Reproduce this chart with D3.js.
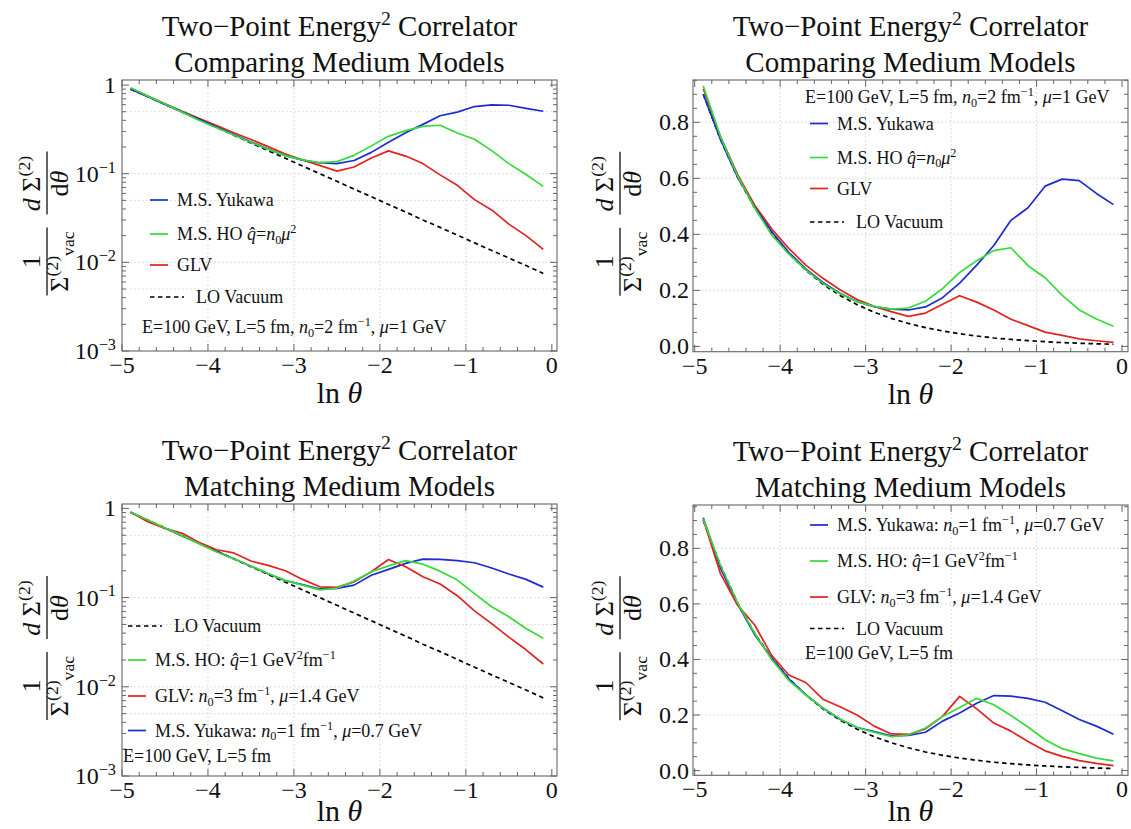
<!DOCTYPE html>
<html><head><meta charset="utf-8">
<script src="https://cdn.jsdelivr.net/npm/d3@7/dist/d3.min.js"></script>
<style>
body{margin:0;background:#fff;}
svg{display:block;}
svg text{font-family:"Liberation Serif","Times New Roman",Times,serif;}
</style></head>
<body><svg id="c" width="1131" height="829" font-family="Liberation Serif, Times New Roman, serif"></svg>
<script>
// ---------------- data ----------------
const lnTheta = [-4.9,-4.7,-4.5,-4.3,-4.1,-3.9,-3.7,-3.5,-3.3,-3.1,-2.9,-2.7,-2.5,-2.3,-2.1,-1.9,-1.7,-1.5,-1.3,-1.1,-0.9,-0.7,-0.5,-0.3,-0.1];
const vacuum = [0.900,0.740,0.605,0.495,0.405,0.332,0.272,0.222,0.182,0.149,0.122,0.100,0.082,0.067,0.055,0.045,0.037,0.030,0.0248,0.0203,0.0166,0.0136,0.0112,0.0092,0.0075];
// Comparing medium models (n0=2 fm^-1, mu=1 GeV)
const yukawaCompare = [0.900,0.740,0.605,0.498,0.410,0.336,0.277,0.228,0.190,0.160,0.142,0.133,0.130,0.141,0.174,0.226,0.290,0.360,0.450,0.495,0.572,0.597,0.592,0.546,0.506];
const hoCompare     = [0.930,0.750,0.610,0.495,0.398,0.330,0.273,0.225,0.188,0.160,0.143,0.133,0.137,0.161,0.206,0.264,0.306,0.342,0.352,0.288,0.245,0.182,0.130,0.098,0.072];
const glvCompare    = [0.920,0.750,0.615,0.505,0.420,0.350,0.290,0.243,0.202,0.167,0.143,0.124,0.107,0.119,0.150,0.181,0.158,0.130,0.097,0.074,0.051,0.039,0.027,0.020,0.014];
// Matching medium models
const yukawaMatch = [0.910,0.730,0.600,0.490,0.405,0.330,0.273,0.225,0.185,0.155,0.140,0.125,0.127,0.138,0.178,0.207,0.242,0.270,0.268,0.260,0.246,0.215,0.184,0.160,0.131];
const hoMatch     = [0.905,0.740,0.605,0.495,0.400,0.325,0.272,0.225,0.186,0.155,0.138,0.122,0.128,0.153,0.195,0.227,0.260,0.237,0.198,0.157,0.111,0.079,0.061,0.045,0.035];
const glvMatch    = [0.904,0.710,0.596,0.525,0.415,0.344,0.317,0.257,0.230,0.200,0.160,0.132,0.130,0.150,0.195,0.267,0.222,0.171,0.142,0.105,0.071,0.051,0.036,0.026,0.018];

const xTickValues = [-5,-4,-3,-2,-1,0];
const linTickValues = [0.0,0.2,0.4,0.6,0.8];
const logTickValues = [1e-3,1e-2,1e-1,1];

const titleLine1 = "Two\u2212Point Energy|^2| Correlator";
const titleCompare = "Comparing Medium Models";
const titleMatch = "Matching Medium Models";

const lblYukawa = "M.S. Yukawa";
const lblHO = "M.S. HO |i:q\u0302|=|i:n|_0|i:\u03bc|^2";
const lblGLV = "GLV";
const lblVac = "LO Vacuum";
const lblInfoCompare = "E=100 GeV, L=5 fm, |i:n|_0|=2 fm|^\u22121|, |i:\u03bc|=1 GeV";
const lblYukawaM = "M.S. Yukawa: |i:n|_0|=1 fm|^\u22121|, |i:\u03bc|=0.7 GeV";
const lblHOM = "M.S. HO: |i:q\u0302|=1 GeV|^2|fm|^\u22121";
const lblGLVM = "GLV: |i:n|_0|=3 fm|^\u22121|, |i:\u03bc|=1.4 GeV";
const lblInfoMatch = "E=100 GeV, L=5 fm";

const COL = {yukawa:"#1c2bd2", ho:"#35dc35", glv:"#e0231f", vac:"#000"};
const FONT = "Liberation Serif, Times New Roman, serif";

// --------------- helpers ----------------
const svg = d3.select("#c");

function parseRich(s){
  return s.split("|").filter(p=>p.length).map(p=>{
    const o={sup:false,sub:false,i:false};
    if(p[0]==="^"){o.sup=true;p=p.slice(1);} else if(p[0]==="_"){o.sub=true;p=p.slice(1);}
    if(p.startsWith("i:")){o.i=true;p=p.slice(2);}
    o.t=p; return o;
  });
}
function rich(g,x,y,str,fs,anchor){
  const t=g.append("text").attr("x",x).attr("y",y).attr("font-size",fs).attr("font-family",FONT)
    .attr("text-anchor",anchor||"start").attr("fill","#111");
  let shift=0;
  parseRich(str).forEach(s=>{
    const target = s.sup? -0.38*fs : s.sub? 0.22*fs : 0;
    const ts=t.append("tspan").attr("dy",target-shift).text(s.t);
    shift=target;
    if(s.sup||s.sub) ts.attr("font-size",fs*0.68);
    if(s.i) ts.attr("font-style","italic");
  });
  return t;
}

function drawYLabel(cx,cy){
  const g=svg.append("g").attr("transform",`translate(${cx},${cy}) rotate(-90)`);
  const fs=26;
  // fraction A : 1 / Sigma^(2)_vac
  rich(g,-40,21,"\u03a3|^(2)|_vac",fs,"middle");
  rich(g,-40,-7,"1",fs,"middle");
  g.append("line").attr("x1",-74).attr("x2",-6).attr("y1",0).attr("y2",0).attr("stroke","#111").attr("stroke-width",1.3);
  // fraction B : d Sigma^(2) / d theta
  rich(g,38,-7,"|i:d| \u03a3|^(2)",fs,"middle");
  rich(g,38,21,"d|i:\u03b8",fs,"middle");
  g.append("line").attr("x1",7).attr("x2",70).attr("y1",0).attr("y2",0).attr("stroke","#111").attr("stroke-width",1.3);
}

function drawPanel(p){
  const g=svg.append("g");
  const fr=p.frame;
  const x=d3.scaleLinear().domain(p.xdom).range([fr.l,fr.r]);
  const y=(p.log?d3.scaleLog():d3.scaleLinear()).domain(p.ydom).range([fr.b,fr.t]);

  // grid
  const gridY = p.log ? [0.5,0.1,0.05,0.01,0.005] : [0.2,0.4,0.6,0.8];
  const gridX = [-4,-3,-2,-1];
  g.selectAll(null).data(gridY).join("line")
    .attr("x1",fr.l).attr("x2",fr.r).attr("y1",d=>y(d)).attr("y2",d=>y(d))
    .attr("stroke","#c8c8c8").attr("stroke-width",0.8).attr("stroke-dasharray","1.5,2.5");
  g.selectAll(null).data(gridX).join("line")
    .attr("y1",fr.t).attr("y2",fr.b).attr("x1",d=>x(d)).attr("x2",d=>x(d))
    .attr("stroke","#c8c8c8").attr("stroke-width",0.8).attr("stroke-dasharray","1.5,2.5");

  // series
  const line=d3.line().x((d,i)=>x(lnTheta[i])).y(d=>y(d));
  p.series.forEach(s=>{
    g.append("path").datum(s.values).attr("d",line).attr("fill","none")
      .attr("stroke",s.color).attr("stroke-width",1.7)
      .attr("stroke-dasharray",s.dash?"4.5,3.5":null).attr("stroke-linejoin","round");
  });

  // frame
  g.append("rect").attr("x",fr.l).attr("y",fr.t).attr("width",fr.r-fr.l).attr("height",fr.b-fr.t)
    .attr("fill","none").attr("stroke","#666").attr("stroke-width",1.1);

  // x ticks
  const tc="#666";
  const xMinor=d3.range(-50,1,2).map(v=>v/10);
  xMinor.forEach(v=>{
    const major=Math.abs(v-Math.round(v))<1e-9;
    const L=major?7:4;
    g.append("line").attr("x1",x(v)).attr("x2",x(v)).attr("y1",fr.b).attr("y2",fr.b-L).attr("stroke",tc);
    g.append("line").attr("x1",x(v)).attr("x2",x(v)).attr("y1",fr.t).attr("y2",fr.t+L).attr("stroke",tc);
  });
  xTickValues.forEach(v=>{
    g.append("text").attr("x",x(v)).attr("y",fr.b+22).attr("font-size",24).attr("font-family",FONT)
      .attr("text-anchor","middle").attr("fill","#111").text(v<0?"\u2212"+Math.abs(v):String(v));
  });

  // y ticks
  let yt=[];
  if(p.log){
    [1e-3,1e-2,1e-1].forEach(d=>{for(let k=1;k<10;k++){const v=d*k; yt.push({v,major:k===1});}});
    yt.push({v:1,major:true});
  } else {
    for(let k=0;k<=19;k++){const v=k*0.05; yt.push({v,major:k%4===0});}
  }
  yt.forEach(t=>{
    const L=t.major?7:4;
    g.append("line").attr("x1",fr.l).attr("x2",fr.l+L).attr("y1",y(t.v)).attr("y2",y(t.v)).attr("stroke",tc);
    g.append("line").attr("x1",fr.r).attr("x2",fr.r-L).attr("y1",y(t.v)).attr("y2",y(t.v)).attr("stroke",tc);
  });
  if(p.log){
    logTickValues.forEach(v=>{
      const e=Math.round(Math.log10(v));
      const s = e===0 ? "1" : "10|^\u2212"+Math.abs(e);
      rich(g,fr.l-6,y(v)+8,s,24,"end");
    });
  } else {
    linTickValues.forEach(v=>{
      g.append("text").attr("x",fr.l-4).attr("y",y(v)+8).attr("font-size",24).attr("font-family",FONT)
        .attr("text-anchor","end").attr("fill","#111").text(v.toFixed(1));
    });
  }

  // titles
  const cx=(fr.l+fr.r)/2;
  rich(g,cx,fr.t-44,titleLine1,29,"middle");
  rich(g,cx,fr.t-8,p.title2,29,"middle");
  // x label
  const xl=g.append("text").attr("x",cx).attr("y",Math.min(fr.b+52,821)).attr("font-size",30).attr("font-family",FONT)
    .attr("text-anchor","middle").attr("fill","#111");
  xl.append("tspan").text("ln ");
  xl.append("tspan").attr("font-style","italic").text("\u03b8");

  // legend
  p.legend.forEach(e=>{
    if(e.color){
      g.append("line").attr("x1",e.lx).attr("x2",e.lx+(e.dash?34:18)).attr("y1",e.y).attr("y2",e.y)
        .attr("stroke",e.color).attr("stroke-width",1.7).attr("stroke-dasharray",e.dash?"4.5,3.5":null);
      rich(g,e.lx+(e.dash?46:27),e.y+6,e.text,18);
    } else {
      rich(g,e.lx,e.y,e.text,18);
    }
  });
  drawYLabel(p.ylx,(fr.t+fr.b)/2+p.ylShift);
}

const panels=[
 {log:true,title2:titleCompare,frame:{l:122,r:557,t:80,b:351},xdom:[-5,0.06],ydom:[1e-3,1.14],ylx:47,ylShift:6,
  series:[{values:vacuum,color:COL.vac,dash:true},{values:glvCompare,color:COL.glv},{values:yukawaCompare,color:COL.yukawa},{values:hoCompare,color:COL.ho}],
  legend:[{lx:150,y:200,color:COL.yukawa,text:lblYukawa},{lx:150,y:234,color:COL.ho,text:lblHO},{lx:150,y:265,color:COL.glv,text:lblGLV},
          {lx:150,y:297,color:COL.vac,dash:true,text:lblVac},{lx:142,y:333,text:lblInfoCompare}]},
 {log:false,title2:titleCompare,frame:{l:693,r:1128,t:80,b:351.7},xdom:[-5.02,0.07],ydom:[-0.019,0.951],ylx:620,ylShift:6,
  series:[{values:vacuum,color:COL.vac,dash:true},{values:glvCompare,color:COL.glv},{values:yukawaCompare,color:COL.yukawa},{values:hoCompare,color:COL.ho}],
  legend:[{lx:805,y:103,text:lblInfoCompare},{lx:810,y:123.5,color:COL.yukawa,text:lblYukawa},{lx:810,y:157.5,color:COL.ho,text:lblHO},
          {lx:810,y:188.5,color:COL.glv,text:lblGLV},{lx:810,y:222,color:COL.vac,dash:true,text:lblVac}]},
 {log:true,title2:titleMatch,frame:{l:122,r:557,t:504,b:776},xdom:[-5,0.06],ydom:[1e-3,1.12],ylx:47,ylShift:6,
  series:[{values:vacuum,color:COL.vac,dash:true},{values:yukawaMatch,color:COL.yukawa},{values:glvMatch,color:COL.glv},{values:hoMatch,color:COL.ho}],
  legend:[{lx:128,y:626,color:COL.vac,dash:true,text:lblVac},{lx:128,y:660,color:COL.ho,text:lblHOM},{lx:128,y:696,color:COL.glv,text:lblGLVM},
          {lx:128,y:730.5,color:COL.yukawa,text:lblYukawaM},{lx:123,y:762,text:lblInfoMatch}]},
 {log:false,title2:titleMatch,frame:{l:693,r:1128,t:505,b:775.3},xdom:[-5.02,0.07],ydom:[-0.017,0.956],ylx:620,ylShift:6,
  series:[{values:vacuum,color:COL.vac,dash:true},{values:yukawaMatch,color:COL.yukawa},{values:glvMatch,color:COL.glv},{values:hoMatch,color:COL.ho}],
  legend:[{lx:810,y:525,color:COL.yukawa,text:lblYukawaM},{lx:810,y:561,color:COL.ho,text:lblHOM},{lx:810,y:597,color:COL.glv,text:lblGLVM},
          {lx:810,y:628.5,color:COL.vac,dash:true,text:lblVac},{lx:805,y:659,text:lblInfoMatch}]}
];
panels.forEach(drawPanel);
</script></body></html>
